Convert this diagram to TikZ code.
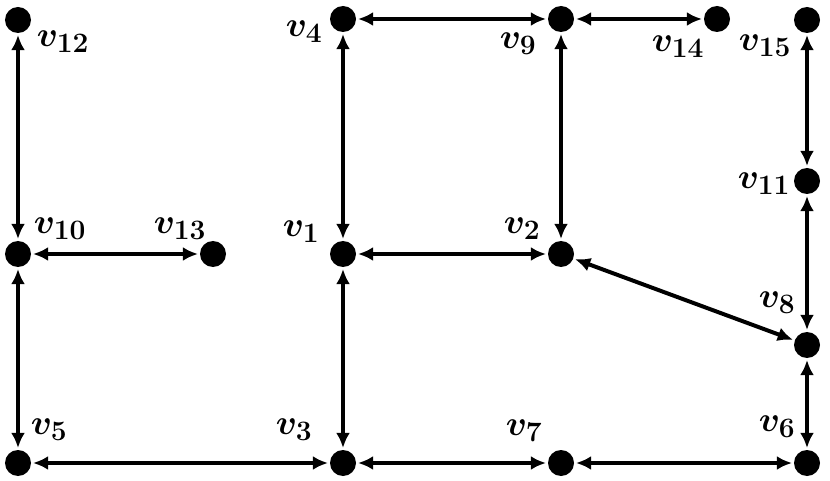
\RequirePackage{fix-cm}
\documentclass[tikz,border=0pt]{standalone}
\usetikzlibrary{arrows.meta}
\DeclareMathSizes{30}{30}{24}{20}

\begin{document}
\begin{tikzpicture}[<->,>={Latex[length=13pt,width=12pt]},%
    x=0.03cm,y=-0.03cm,line width=3.4pt,
    vertex/.style={circle,fill=black,inner sep=0pt,minimum size=0.78cm},
    lbl/.style={font=\fontsize{30}{36}\selectfont\boldmath,inner sep=0pt}]
    \useasboundingbox (0,0) rectangle (830,481);
    % vertices
    \node[vertex] (v12) at (18,20)   {};
    \node[vertex] (v10) at (18,254)  {};
    \node[vertex] (v13) at (213,254) {};
    \node[vertex] (v5)  at (18,463)  {};
    \node[vertex] (v4)  at (343,19)  {};
    \node[vertex] (v1)  at (343,254) {};
    \node[vertex] (v3)  at (343,463) {};
    \node[vertex] (v9)  at (561,19)  {};
    \node[vertex] (v2)  at (561,254) {};
    \node[vertex] (v7)  at (561,463) {};
    \node[vertex] (v14) at (717,19)  {};
    \node[vertex] (v15) at (807,20)  {};
    \node[vertex] (v11) at (807,181) {};
    \node[vertex] (v8)  at (807,345) {};
    \node[vertex] (v6)  at (807,463) {};
    % labels
    \node[lbl] (l12) at (63,42)   {$v_{12}$};
    \node[lbl] (l10) at (60,229)  {$v_{10}$};
    \node[lbl] (l13) at (180,229) {$v_{13}$};
    \node[lbl] (l5)  at (49,430)  {$v_{5}$};
    \node[lbl] (l4)  at (304,32)  {$v_{4}$};
    \node[lbl] (l1)  at (301,232) {$v_{1}$};
    \node[lbl] (l3)  at (294,430) {$v_{3}$};
    \node[lbl] (l9)  at (518,44)  {$v_{9}$};
    \node[lbl] (l2)  at (522,229) {$v_{2}$};
    \node[lbl] (l7)  at (524,431) {$v_{7}$};
    \node[lbl] (l14) at (678,47)  {$v_{14}$};
    \node[lbl] (l15) at (765,46)  {$v_{15}$};
    \node[lbl] (l11) at (764,184) {$v_{11}$};
    \node[lbl] (l8)  at (777,303) {$v_{8}$};
    \node[lbl] (l6)  at (777,427) {$v_{6}$};
    % links
    \path (v12) edge (v10)
          (v10) edge (v13)
                edge (v5)
          (v5)  edge (v3)
          (v3)  edge (v1)
                edge (v7)
          (v7)  edge (v6)
          (v1)  edge (v2)
                edge (v4)
          (v4)  edge (v9)
          (v9)  edge (v2)
                edge (v14)
          (v2)  edge (v8)
          (v6)  edge (v8)
          (v8)  edge (v11)
          (v11) edge (v15);
\end{tikzpicture}
\end{document}
